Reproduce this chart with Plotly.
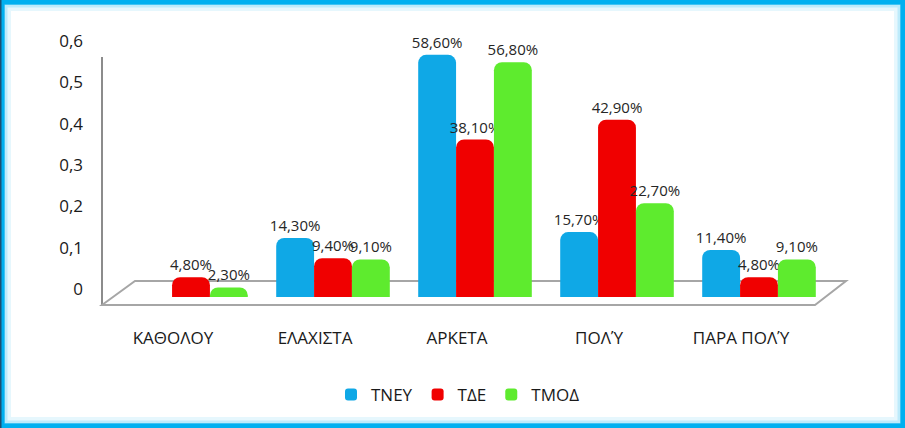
import plotly.graph_objects as go

categories = ['ΚΑΘΟΛΟΥ', 'ΕΛΑΧΙΣΤΑ', 'ΑΡΚΕΤΑ', 'ΠΟΛΎ', 'ΠΑΡΑ ΠΟΛΎ']
series_names = ['ΤΝΕΥ', 'ΤΔΕ', 'ΤΜΟΔ']
tney = [None, 0.143, 0.586, 0.157, 0.114]
tde = [0.048, 0.094, 0.381, 0.429, 0.048]
tmod = [0.023, 0.091, 0.568, 0.227, 0.091]
y_ticks = [0, 0.1, 0.2, 0.3, 0.4, 0.5, 0.6]

colors = ['#0FA8E6', '#F00000', '#5EEB2E']

W, H = 905, 428
L, R, T, B = 120, 75, 49, 131
PW, PH = W - L - R, H - T - B


def px(x):
    return (x - L) / PW


def py(y):
    return (H - B - y) / PH


fig = go.Figure()
for name, vals, col in zip(series_names, [tney, tde, tmod], colors):
    fig.add_trace(go.Bar(
        x=categories, y=vals, name=name,
        marker=dict(color=col, line=dict(width=0)),
        texttemplate='%{y:.2%}', textposition='outside',
        textfont=dict(size=15, color='#262626'),
        constraintext='none',
        cliponaxis=False,
    ))

shapes = []
# y axis line
shapes.append(dict(type='line', xref='paper', yref='paper',
                   x0=px(102), x1=px(102), y0=py(57), y1=py(305),
                   line=dict(color='#8C8C8C', width=2), layer='below'))
# 3d floor
floor = 'M {} {} L {} {} L {} {} L {} {} Z'.format(
    px(102), py(305), px(135), py(281), px(846), py(281), px(815), py(305))
shapes.append(dict(type='path', xref='paper', yref='paper', path=floor,
                   line=dict(color='#A6A6A6', width=2), layer='below'))
# frame with inner glow
for inset, col, w in [(9, '#E6F7FD', 4), (6, '#BDEBFB', 3), (4, '#7FD6F6', 2), (0, '#00B0F0', 9)]:
    shapes.append(dict(type='rect', xref='paper', yref='paper',
                       x0=px(inset), x1=px(W - inset), y0=py(H - inset), y1=py(inset),
                       line=dict(color=col, width=w), layer='above'))
shapes.append(dict(type='line', xref='paper', yref='paper',
                   x0=px(0), x1=px(0), y0=py(0), y1=py(H),
                   line=dict(color='#1B4F72', width=3), layer='above'))

fig.update_layout(
    width=W, height=H,
    margin=dict(l=L, r=R, t=T, b=B),
    paper_bgcolor='white', plot_bgcolor='white',
    font=dict(family='Open Sans, Noto Sans, sans-serif', size=17, color='#1a1a1a'),
    separators=',.',
    barmode='group', bargap=0.2, bargroupgap=0.0,
    barcornerradius=8,
    showlegend=True,
    legend=dict(orientation='h', x=px(458), xanchor='center', y=py(395), yanchor='middle',
                font=dict(size=17), itemwidth=30, traceorder='normal'),
    shapes=shapes,
    xaxis=dict(showline=False, showgrid=False, ticks='', tickfont=dict(size=17),
               ticklabelshift=-18, ticklabelstandoff=29),
    yaxis=dict(range=[0, 0.6], tickvals=y_ticks, showline=False, showgrid=False,
               zeroline=False, ticks='', tickfont=dict(size=17),
               ticklabelshift=-8, ticklabelstandoff=36),
)

fig.write_html('out.html', config={'displayModeBar': False},
               post_script="document.body.style.margin='0';")
